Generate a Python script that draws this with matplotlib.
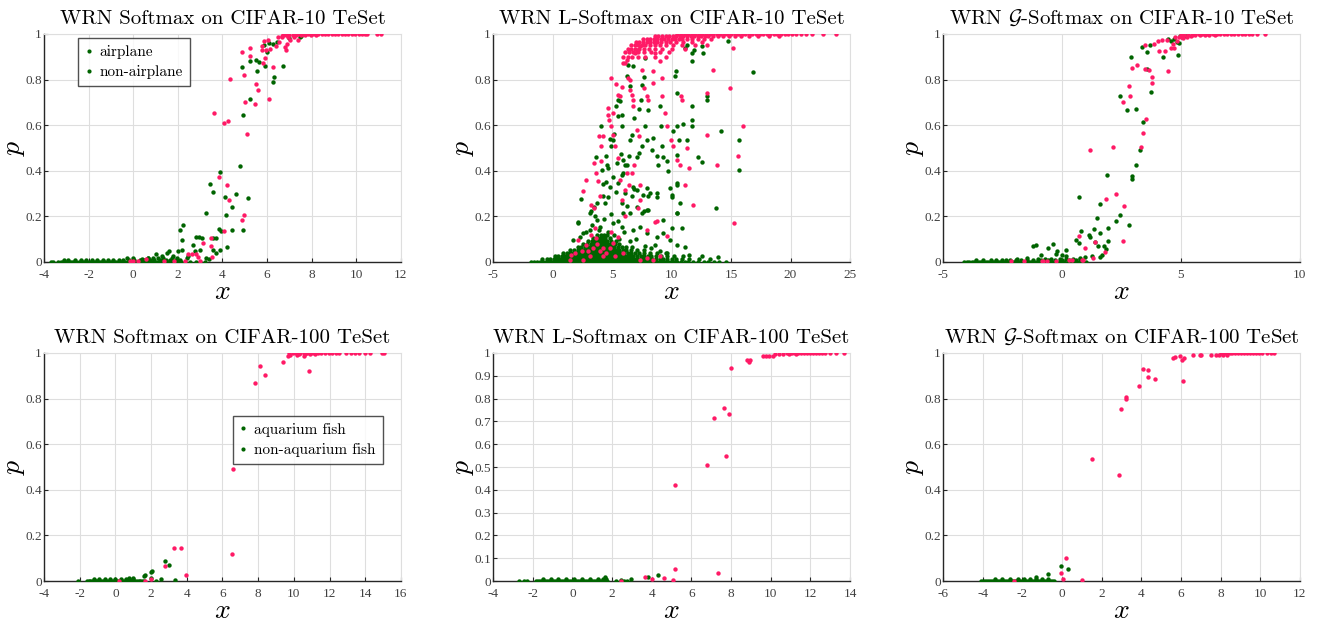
import numpy as np
import matplotlib
matplotlib.use('Agg')
import matplotlib.pyplot as plt
from matplotlib.lines import Line2D

plt.rcParams['font.family'] = ['Liberation Serif', 'DejaVu Serif']
plt.rcParams['mathtext.fontset'] = 'cm'
plt.rcParams['axes.unicode_minus'] = False

GREEN = '#006400'
PINK = '#ff1a66'

# ---------------- CIFAR-10, Softmax ----------------
c10_soft_g_rows = {
    0.002: [-3.7, -3.6, -3.35, -3.25, -3.15, -3.05, -2.95, -2.85, -2.75, -2.65, -2.55, -2.45, -2.35,
            -2.25, -2.15, -2.05, -1.95, -1.85, -1.75, -1.65, -1.55, -1.45, -1.35, -1.25, -1.15,
            -1.05, -0.95, -0.85, -0.75, -0.65, -0.55, -0.45, -0.35, -0.25, -0.15, -0.05, 0.05,
            0.15, 0.25, 0.35, 0.45, 0.55, 0.65, 0.75, 0.85, 0.95, 1.05, 1.15, 1.25, 1.35, 1.45,
            1.55, 1.65, 1.75, 1.85, 1.95, 2.05, 2.15, 2.3, 2.55, 2.8, 3.0, 3.2],
    0.008: [-3.1, -2.9, -2.6, -2.35, -2.1, -1.85, -1.6, -1.35, -1.15, -0.9, -0.65, -0.45, -0.2,
            0.05, 0.3, 0.5, 0.75, 0.95, 1.2, 1.45, 1.65, 1.9, 2.1],
    0.016: [-0.3, 0.0, 0.65, 0.9, 1.1, 1.35, 1.75, 1.95, 2.4],
}
c10_soft_g_x = [2.09, 2.22, 2.21, 2.21, 2.01, 1.61, 1.53, 2.83, 2.95, 3.1, 2.68, 2.77, 3.0, 3.28,
                3.46, 3.58, 3.88, 3.83, 3.95, 3.59, 3.73, 3.58, 3.91, 3.73, 4.12, 4.18, 4.21, 4.45,
                4.43, 4.63, 4.78, 4.9, 4.88, 4.94, 5.15, 5.25, 5.25, 5.51, 5.57, 5.66, 5.9, 5.88,
                6.02, 6.08, 6.26, 6.27, 6.32, 6.72, 6.44, 6.99, 7.54, 7.47, 0.4, 1.3, 1.03, 1.79,
                2.47, 3.4, 3.25, 0.68]
c10_soft_g_p = [0.142, 0.16, 0.095, 0.054, 0.05, 0.05, 0.04, 0.11, 0.11, 0.104, 0.073, 0.05, 0.054,
                0.215, 0.34, 0.306, 0.393, 0.145, 0.137, 0.104, 0.104, 0.054, 0.054, 0.04, 0.285,
                0.208, 0.067, 0.241, 0.142, 0.3, 0.42, 0.646, 0.855, 0.142, 0.279, 0.715, 0.88,
                0.885, 0.839, 0.877, 0.858, 0.95, 0.921, 0.959, 0.956, 0.789, 0.813, 0.858, 0.966,
                0.982, 0.99, 0.985, 0.013, 0.028, 0.034, 0.025, 0.025, 0.015, 0.016, 0.019]
c10_soft_r_rows = {
    1.0: [7.4, 7.55, 7.7, 7.85, 8.0, 8.15, 8.3, 8.45, 8.6, 8.75, 8.9, 9.05, 9.2, 9.35, 9.5, 9.65,
          9.8, 9.95, 10.1, 10.25, 10.4, 10.5, 10.95, 11.1],
    0.995: [6.7, 6.85, 7.0, 7.15, 7.3, 7.5, 7.7, 7.95, 8.2],
    0.988: [6.5, 6.65, 6.95, 7.2],
}
c10_soft_r_x = [3.62, 4.06, 4.27, 4.36, 4.88, 4.96, 5.03, 5.08, 5.45, 5.51, 5.6, 6.08, 5.24, 5.25,
                5.76, 5.76, 5.82, 5.93, 5.97, 6.12, 5.85, 6.06, 6.39, 6.54, 6.67, 6.79, 6.84, 6.9,
                7.02, 7.39, 6.26, 3.83, 4.21, 4.3, 4.88, 4.96, 4.06, 3.49, 3.48, 3.15, 2.83, 2.47,
                2.65, 2.92, 3.53, 3.0, 2.31, 1.82, 1.37, 0.59, 0.2, -0.13, 0.0]
c10_soft_r_p = [0.653, 0.611, 0.617, 0.803, 0.921, 0.82, 0.7, 0.561, 0.693, 0.782, 0.753, 0.716,
                0.905, 0.94, 0.949, 0.928, 0.873, 0.895, 0.931, 0.934, 0.969, 0.975, 0.946, 0.965,
                0.99, 0.942, 0.928, 0.955, 0.972, 0.972, 0.855, 0.371, 0.338, 0.272, 0.186, 0.208,
                0.137, 0.104, 0.069, 0.083, 0.034, 0.034, 0.034, 0.022, 0.02, 0.003, 0.006, 0.003,
                0.003, 0.012, 0.003, 0.003, 0.006]

# ---------------- CIFAR-10, L-Softmax ----------------
c10_lsoft_g_rows = {
    0.002: [-1.8, -1.55, -1.3, -1.05, -0.8, -0.55, -0.3, -0.05, 0.2, 0.45, 0.7, 0.95, 1.2, 1.45,
            1.7, 1.95, 2.2, 2.45, 2.7, 2.95, 3.2, 3.45, 3.7, 3.95, 4.2, 4.45, 4.7, 4.95, 5.2, 5.45,
            5.7, 5.95, 6.2, 6.45, 6.7, 6.95, 7.2, 7.45, 7.7, 7.95, 8.2, 8.45, 8.7, 8.95, 9.2, 9.45,
            9.7, 9.95, 10.2, 10.5, 10.8, 11.1, 11.4, 11.8, 12.2, 12.7, 13.1, 13.6, 14.0, 14.6],
    0.014: [-0.9, -0.5, -0.2, 0.1, 0.35, 0.6, 0.85, 1.1, 1.35, 1.6, 1.85, 2.1, 2.35, 2.6, 2.85,
            3.1, 3.35, 3.6, 3.85, 4.1, 4.35, 4.6, 4.85, 5.1, 5.35, 5.6, 5.85, 6.1, 6.35, 6.6, 6.85,
            7.1, 7.35, 7.6, 7.85, 8.1, 8.4, 8.7, 9.0, 9.3, 9.6, 10.0, 10.4, 10.9, 11.5, 12.3, 13.2],
    0.027: [0.2, 0.5, 0.8, 1.05, 1.3, 1.55, 1.8, 2.05, 2.3, 2.55, 2.8, 3.05, 3.3, 3.55, 3.8, 4.05,
            4.3, 4.55, 4.8, 5.05, 5.3, 5.55, 5.8, 6.05, 6.3, 6.55, 6.8, 7.1, 7.4, 7.7, 8.0, 8.3,
            8.7, 9.1, 9.6, 10.2, 11.0],
    0.040: [0.9, 1.2, 1.5, 1.75, 2.0, 2.25, 2.5, 2.75, 3.0, 3.25, 3.5, 3.75, 4.0, 4.25, 4.5, 4.75,
            5.0, 5.25, 5.5, 5.75, 6.0, 6.3, 6.6, 6.9, 7.3, 7.7, 8.2, 8.8, 9.5],
    0.053: [1.5, 1.8, 2.1, 2.35, 2.6, 2.85, 3.1, 3.35, 3.6, 3.85, 4.1, 4.35, 4.6, 4.85, 5.1, 5.35,
            5.6, 5.9, 6.2, 6.6, 7.1, 7.7],
    0.066: [2.1, 2.4, 2.7, 2.95, 3.2, 3.45, 3.7, 3.95, 4.2, 4.45, 4.7, 4.95, 5.2, 5.5, 5.8, 6.2,
            6.7],
    0.079: [2.6, 2.9, 3.2, 3.45, 3.7, 3.95, 4.2, 4.45, 4.7, 4.95, 5.25, 5.6],
    0.092: [3.0, 3.3, 3.6, 3.85, 4.1, 4.35, 4.6, 4.9, 5.3],
    0.105: [3.4, 3.7, 3.95, 4.2, 4.45, 4.8],
    0.118: [3.75, 4.05, 4.35, 4.6],
}
c10_lsoft_g_x = [4.06, 2.37, 2.12, 3.69, 4.53, 4.67, 4.48, 4.25, 4.25, 3.75, 3.47, 3.27, 4.81, 4.9,
                 5.04, 5.15, 5.37, 5.51, 5.66, 5.8, 5.8, 5.51, 5.74, 5.94, 6.08, 5.88, 6.22, 6.36,
                 6.78, 6.5, 6.86, 6.64, 6.55, 6.44, 6.83, 7.06, 6.64, 6.22, 5.88, 7.28, 7.42, 7.48,
                 7.67, 7.78, 8.04, 7.76, 7.96, 7.48, 7.28, 7.9, 8.04, 7.67, 8.04, 8.32, 8.46, 8.74,
                 8.88, 8.74, 9.02, 9.08, 9.16, 9.58, 9.72, 9.86, 10.0, 10.28, 10.37, 10.42, 10.48,
                 10.62, 10.42, 10.14, 10.42, 10.7, 10.42, 11.12, 11.26, 11.68, 11.88, 11.68, 11.74,
                 11.68, 11.0, 11.26, 12.24, 12.52, 11.68, 12.66, 12.52, 13.02, 13.02, 13.73, 14.12,
                 14.77, 15.67, 15.67, 16.87,
                 2.17, 3.15, 3.71, 4.41, 4.69, 4.83, 5.53, 5.34, 5.81, 6.09, 6.51, 7.07, 7.5, 7.92,
                 8.19, 8.75, 9.31, 10.01, 10.85, 10.43, 3.99, 3.15, 2.59, 2.31, 1.75, 5.11, 5.81,
                 6.79, 7.35, 7.92, 8.75, 9.31, 9.87, 10.43, 11.13, 8.61, 4.13, 4.55, 5.39, 5.11,
                 5.81, 6.23, 7.07, 9.31, 10.43, 10.01, 6.79, 7.63,
                 2.8, 3.3, 3.9, 4.3, 4.7, 5.2, 5.6, 6.0, 6.5, 7.0, 7.8, 8.3, 9.0, 9.6, 11.5, 12.6,
                 13.9, 3.6, 4.9, 5.5]
c10_lsoft_g_p = [0.598, 0.278, 0.174, 0.46, 0.466, 0.412, 0.349, 0.344, 0.288, 0.259, 0.241, 0.222,
                 0.539, 0.507, 0.537, 0.561, 0.683, 0.712, 0.705, 0.646, 0.598, 0.639, 0.475, 0.449,
                 0.427, 0.39, 0.817, 0.865, 0.858, 0.773, 0.632, 0.558, 0.537, 0.463, 0.32, 0.317,
                 0.288, 0.244, 0.215, 0.67, 0.712, 0.775, 0.811, 0.895, 0.668, 0.595, 0.537, 0.507,
                 0.478, 0.325, 0.288, 0.222, 0.227, 0.493, 0.544, 0.463, 0.427, 0.303, 0.683, 0.595,
                 0.507, 0.442, 0.398, 0.325, 0.295, 0.815, 0.836, 0.741, 0.595, 0.537, 0.471, 0.573,
                 0.338, 0.259, 0.215, 0.939, 0.953, 0.917, 0.931, 0.88, 0.624, 0.595, 0.607, 0.537,
                 0.461, 0.437, 0.683, 0.917, 0.946, 0.709, 0.727, 0.237, 0.573, 0.968, 0.534, 0.405,
                 0.832,
                 0.172, 0.213, 0.184, 0.257, 0.286, 0.33, 0.345, 0.309, 0.257, 0.301, 0.213, 0.243,
                 0.213, 0.228, 0.301, 0.286, 0.184, 0.148, 0.148, 0.213, 0.155, 0.14, 0.126, 0.111,
                 0.096, 0.17, 0.155, 0.14, 0.155, 0.126, 0.111, 0.126, 0.096, 0.075, 0.067, 0.075,
                 0.404, 0.425, 0.433, 0.374, 0.382, 0.425, 0.462, 0.462, 0.345, 0.286, 0.33, 0.294,
                 0.13, 0.16, 0.14, 0.19, 0.13, 0.12, 0.1, 0.13, 0.09, 0.1, 0.07, 0.06, 0.05, 0.04,
                 0.03, 0.025, 0.02, 0.2, 0.21, 0.18]
c10_lsoft_r_rows = {
    1.0: [10.5, 10.8, 11.1, 11.4, 11.7, 12.0, 12.3, 12.6, 12.9, 13.2, 13.5, 13.8, 14.1, 14.4, 14.7,
          15.0, 15.3, 15.6, 15.9, 16.2, 16.5, 16.8, 17.1, 17.4, 17.7, 18.0, 18.3, 18.6, 18.9, 19.2,
          19.5, 19.8, 20.1, 20.5, 20.9, 21.3, 21.8, 22.7, 23.8],
    0.99: [8.6, 8.9, 9.2, 9.5, 9.8, 10.1, 10.4, 10.7, 11.0, 11.3, 11.6, 11.9, 12.2, 12.5, 12.8, 13.1,
           13.5, 13.9, 14.3, 14.8, 15.3, 15.8, 16.5, 17.3, 18.2, 19.0],
    0.978: [7.6, 7.9, 8.2, 8.5, 8.8, 9.1, 9.4, 9.7, 10.0, 10.3, 10.6, 10.9, 11.3, 11.7, 12.2, 12.7,
            13.3],
    0.965: [7.0, 7.3, 7.6, 7.9, 8.2, 8.5, 8.8, 9.1, 9.5, 9.9, 10.4, 11.0, 11.7, 12.6],
    0.95: [6.6, 6.9, 7.2, 7.5, 7.8, 8.2, 8.6, 9.0, 9.5, 10.1, 10.9, 12.0, 13.0],
    0.935: [6.3, 6.6, 6.95, 7.3, 7.7, 8.1, 8.6, 9.2, 10.0, 11.1],
    0.92: [6.1, 6.4, 6.8, 7.2, 7.7, 8.3, 9.0, 9.8],
    0.9: [5.9, 6.3, 6.7, 7.2, 7.8, 8.6, 9.5],
}
c10_lsoft_r_x = [4.9, 4.67, 4.62, 4.73, 3.91, 4.25, 4.08, 3.49, 4.06, 2.85, 2.52, 3.69, 3.86, 3.97,
                 3.27, 3.47, 5.37, 5.51, 5.66, 5.91, 6.08, 6.22, 6.3, 6.5, 6.55, 6.64, 6.72, 6.78,
                 5.8, 5.09, 4.95, 5.09, 5.23, 5.51, 5.66, 5.8, 6.08, 6.22, 6.44, 6.64, 6.83, 7.06,
                 7.25, 6.92, 7.06, 7.34, 7.48, 7.67, 7.9, 8.04, 8.46, 8.46, 8.6, 9.02, 9.16, 9.24,
                 9.44, 9.58, 9.92, 10.14, 10.42, 10.7, 10.79, 10.87, 11.32, 11.49, 11.12, 11.82,
                 12.94, 13.0, 13.78, 13.5, 14.9, 15.18, 15.97, 15.55, 15.27, 8.82, 8.6, 7.34, 7.34,
                 7.22, 7.9, 9.58, 6.08,
                 2.15, 2.85, 3.27, 3.69, 3.41, 3.97, 4.25, 4.53, 3.13, 2.57, 1.45, 1.59, 5.09, 5.23,
                 5.94, 7.34, 7.9, 8.46, 9.02, 1.87, 2.99, 4.81, 4.25, 3.55, 4.95, 2.45, 3.75, 5.5]
c10_lsoft_r_p = [0.807, 0.675, 0.643, 0.624, 0.554, 0.554, 0.507, 0.434, 0.442, 0.361, 0.31, 0.39,
                 0.354, 0.288, 0.251, 0.237, 0.781, 0.734, 0.727, 0.873, 0.873, 0.887, 0.807, 0.8,
                 0.756, 0.734, 0.712, 0.683, 0.768, 0.654, 0.595, 0.558, 0.507, 0.456, 0.361, 0.273,
                 0.317, 0.39, 0.339, 0.39, 0.427, 0.58, 0.551, 0.917, 0.931, 0.946, 0.844, 0.763,
                 0.727, 0.712, 0.836, 0.785, 0.917, 0.88, 0.807, 0.727, 0.654, 0.595, 0.537, 0.507,
                 0.449, 0.427, 0.727, 0.712, 0.5, 0.412, 0.339, 0.251, 0.741, 0.558, 0.427, 0.841,
                 0.763, 0.939, 0.595, 0.466, 0.171, 0.178, 0.174, 0.339, 0.273, 0.237, 0.142,
                 0.113, 0.2,
                 0.098, 0.076, 0.12, 0.105, 0.061, 0.047, 0.025, 0.04, 0.025, 0.01, 0.01, 0.032,
                 0.083, 0.025, 0.04, 0.01, 0.018, 0.01, 0.025, 0.04, 0.047, 0.061, 0.061, 0.15,
                 0.13, 0.05, 0.08, 0.11]

# ---------------- CIFAR-10, G-Softmax ----------------
c10_gsoft_g_rows = {
    0.002: [-4.1, -4.0, -3.9, -3.8, -3.7, -3.6, -3.5, -3.4, -3.3, -3.2, -3.1, -3.0, -2.9, -2.8,
            -2.7, -2.6, -2.5, -2.4, -2.3, -2.2, -2.1, -2.0, -1.9, -1.8, -1.7, -1.6, -1.5, -1.4,
            -1.3, -1.2, -1.1, -1.0, -0.9, -0.8, -0.7, -0.6, -0.5, -0.4, -0.3, -0.2, -0.1, 0.0,
            0.1, 0.25, 0.4, 0.55, 0.7, 0.85, 1.0],
    0.008: [-3.6, -3.3, -3.0, -2.75, -2.5, -2.2, -1.95, -1.7, -1.45, -1.2, -0.9, -0.6, -0.3, 0.0,
            0.3, 0.6],
    0.015: [-1.0, -0.7, -0.45, -0.1, 0.15, 0.45, 0.75],
}
c10_gsoft_g_x = [0.71, 0.82, 0.61, 0.71, 1.13, 1.17, 1.34, 1.48, 1.59, 1.59, 1.41, 1.51, 1.76, 1.87,
                 1.94, 1.92, 1.9, 2.28, 2.46, 2.83, 2.42, 2.72, 2.91, 3.1, 3.1, 2.93, 2.93, 3.28,
                 3.42, 3.36, 3.59, 3.59, 3.71, 3.73, 4.26, 4.46, 4.57, 4.71, 4.82, 4.89, 4.92, 4.96,
                 5.2, 5.06, -0.58, -0.38, -1.09, -1.21, -0.19, -0.24, 0.01, 0.18, 0.17, -0.9, 0.78,
                 0.95, 1.27, 1.58, 1.69, -1.46, -1.89, -2.36]
c10_gsoft_g_p = [0.285, 0.135, 0.098, 0.083, 0.12, 0.11, 0.145, 0.192, 0.256, 0.127, 0.089, 0.069,
                 0.069, 0.057, 0.091, 0.148, 0.382, 0.181, 0.206, 0.161, 0.728, 0.668, 0.899,
                 0.673, 0.427, 0.376, 0.365, 0.49, 0.613, 0.943, 0.92, 0.846, 0.95, 0.747, 0.899,
                 0.98, 0.968, 0.978, 0.963, 0.908, 0.96, 0.99, 0.993, 0.987, 0.061, 0.079, 0.076,
                 0.072, 0.047, 0.037, 0.029, 0.051, 0.028, 0.032, 0.018, 0.02, 0.025, 0.022, 0.032,
                 0.018, 0.013, 0.01]
c10_gsoft_r_rows = {
    1.0: [5.6, 5.75, 5.9, 6.05, 6.2, 6.35, 6.5, 6.65, 6.8, 6.95, 7.1, 7.25, 7.4, 7.55, 7.7, 7.85,
          8.0, 8.2, 8.55],
    0.995: [5.0, 5.15, 5.3, 5.45, 5.6, 5.8, 6.0, 6.2, 6.45],
    0.985: [4.75, 4.9, 5.05, 5.25],
}
c10_gsoft_r_x = [1.17, 2.16, 2.28, 1.86, 2.6, 2.56, 0.71, 0.98, 1.79, 1.3, 0.85, 1.41, 2.81, 2.88,
                 2.95, 2.56, 3.17, 3.49, 3.49, 3.52, 3.39, 3.32, 3.64, 3.77, 3.78, 3.87, 4.02, 4.09,
                 4.33, 4.47, 4.57, 4.69, 4.22, 4.4, 4.68, 4.85, 5.1, 5.41, -2.15, -1.6, -0.85, -0.62,
                 -0.27, 0.29, 0.42, 0.9, -0.79]
c10_gsoft_r_p = [0.49, 0.504, 0.3, 0.278, 0.246, 0.091, 0.115, 0.063, 0.042, 0.016, 0.01, 0.088,
                 0.77, 0.728, 0.852, 0.702, 0.864, 0.846, 0.95, 0.629, 0.567, 0.504, 0.844, 0.811,
                 0.785, 0.956, 0.968, 0.924, 0.924, 0.836, 0.939, 0.939, 0.972, 0.975, 0.956, 0.968,
                 0.982, 0.99, 0.003, 0.003, 0.003, 0.004, 0.006, 0.007, 0.01, 0.009, 0.006]

# ---------------- CIFAR-100, Softmax ----------------
c100_soft_g_rows = {
    0.002: [-1.6, -1.5, -1.4, -1.3, -1.2, -1.1, -1.0, -0.9, -0.8, -0.7, -0.6, -0.5, -0.4, -0.3,
            -0.2, -0.1, 0.0, 0.1, 0.2, 0.3, 0.4, 0.5, 0.6, 0.7, 0.8, 0.9, 1.0, 1.1, 1.2, 1.3,
            1.4, 1.5, 1.6],
    0.008: [-1.2, -0.9, -0.6, -0.3, 0.0, 0.3, 0.6, 0.75, 1.0],
}
c100_soft_g_x = [2.8, 3.01, 2.02, 2.07, 1.61, 1.68, 3.36, 2.54, 2.26, 1.98, -2.09, 0.77, 0.99]
c100_soft_g_p = [0.088, 0.07, 0.041, 0.044, 0.022, 0.026, 0.004, 0.009, 0.001, 0.012, 0.001, 0.015,
                 0.012]
c100_soft_r_rows = {
    1.0: [9.75, 9.95, 10.15, 10.35, 10.55, 10.75, 10.95, 11.15, 11.35, 11.55, 11.75, 11.95, 12.15,
          12.35, 12.55, 12.9, 13.2, 13.45, 13.65, 14.0, 14.25, 14.95, 15.05],
    0.995: [10.3, 10.6, 10.9, 11.2],
}
c100_soft_r_x = [7.85, 8.13, 8.41, 9.4, 9.68, 9.77, 10.86, 10.56, 10.2, 6.6, 6.54, 3.29, 3.7, 3.98,
                 2.77, 1.98, 1.68, 0.2]
c100_soft_r_p = [0.868, 0.941, 0.905, 0.962, 0.985, 0.993, 0.922, 0.988, 0.993, 0.492, 0.117, 0.143,
                 0.143, 0.026, 0.066, 0.007, 0.001, 0.001]

# ---------------- CIFAR-100, L-Softmax ----------------
c100_lsoft_g_rows = {
    0.002: [-2.7, -2.45, -2.27, -1.85, -1.75, -1.65, -1.55, -1.45, -1.35, -1.25, -1.15, -1.05,
            -0.95, -0.85, -0.75, -0.65, -0.55, -0.45, -0.35, -0.25, -0.15, -0.05, 0.05, 0.15,
            0.25, 0.35, 0.45, 0.55, 0.65, 0.75, 0.85, 0.95, 1.05, 1.15, 1.25, 1.35, 1.45, 1.55,
            1.65, 1.75, 2.2, 2.6, 2.75],
    0.007: [-1.5, -1.1, -0.7, -0.3, 0.1, 0.5, 0.9, 1.3, 1.55, 1.7],
}
c100_lsoft_g_x = [1.67, 1.63, 2.98, 3.79, 4.33, 2.45]
c100_lsoft_g_p = [0.01, 0.017, 0.009, 0.017, 0.025, 0.004]
c100_lsoft_r_rows = {
    1.0: [10.8, 10.95, 11.1, 11.25, 11.4, 11.55, 11.7, 11.85, 12.0, 12.15, 12.3, 12.45, 12.6, 12.75,
          13.0, 13.3, 13.7],
    0.995: [10.2, 10.4, 10.6, 10.9, 11.3],
    0.988: [9.6, 9.75, 9.9, 10.1],
}
c100_lsoft_r_x = [6.77, 7.13, 7.66, 7.88, 7.74, 7.99, 8.82, 8.92, 8.95, 5.18, 5.18, 7.32, 5.08, 4.63,
                  4.01, 3.65, 2.43]
c100_lsoft_r_p = [0.507, 0.714, 0.758, 0.731, 0.547, 0.932, 0.971, 0.961, 0.968, 0.419, 0.051,
                  0.035, 0.003, 0.013, 0.01, 0.016, 0.001]

# ---------------- CIFAR-100, G-Softmax ----------------
c100_gsoft_g_rows = {
    0.002: [-4.1, -4.0, -3.9, -3.8, -3.7, -3.6, -3.5, -3.4, -3.3, -3.2, -3.1, -3.0, -2.9, -2.8,
            -2.7, -2.6, -2.5, -2.4, -2.3, -2.2, -2.1, -2.0, -1.9, -1.8, -1.7, -1.6, -1.5, -1.4,
            -1.3, -1.2, -1.1, -1.0, -0.9, -0.8, -0.7, -0.6, -0.5, -0.4],
    0.008: [-3.4, -3.0, -2.6, -2.2, -1.9, -1.6, -1.3, -1.0, -0.7],
}
c100_gsoft_g_x = [-1.32, -0.71, -0.07, 0.31]
c100_gsoft_g_p = [0.016, 0.029, 0.067, 0.051]
c100_gsoft_r_rows = {
    1.0: [8.0, 8.15, 8.3, 8.45, 8.6, 8.75, 8.9, 9.05, 9.2, 9.35, 9.5, 9.65, 9.8, 9.95, 10.1, 10.35,
          10.55, 10.7],
    0.993: [7.5, 7.76, 7.93, 8.1, 8.3],
}
c100_gsoft_r_x = [1.53, 2.87, 2.96, 3.23, 3.25, 3.9, 4.09, 4.34, 4.36, 4.69, 6.11, 5.6, 5.69, 5.96,
                  6.07, 6.14, 6.63, 6.95, 7.03, 0.23, -0.04, 0.03, 1.02, -2.4]
c100_gsoft_r_p = [0.536, 0.466, 0.755, 0.799, 0.807, 0.855, 0.928, 0.927, 0.893, 0.886, 0.878,
                  0.978, 0.981, 0.985, 0.971, 0.978, 0.99, 0.99, 0.993, 0.102, 0.034, 0.007, 0.006,
                  0.001]


def collect(rows, xs, ps):
    # rows: level -> x values lying on that level
    x_all = list(xs)
    p_all = list(ps)
    for level, row in rows.items():
        x_all += row
        p_all += [level] * len(row)
    return x_all, p_all


panels = [
    dict(title='WRN Softmax on CIFAR-10 TeSet', xlim=(-4, 12), xticks=range(-4, 13, 2),
         yticks=[0, 0.2, 0.4, 0.6, 0.8, 1],
         green=collect(c10_soft_g_rows, c10_soft_g_x, c10_soft_g_p),
         pink=collect(c10_soft_r_rows, c10_soft_r_x, c10_soft_r_p),
         legend=['airplane', 'non-airplane'], leg_pos=(0.095, 0.982)),
    dict(title='WRN L-Softmax on CIFAR-10 TeSet', xlim=(-5, 25), xticks=range(-5, 26, 5),
         yticks=[0, 0.2, 0.4, 0.6, 0.8, 1],
         green=collect(c10_lsoft_g_rows, c10_lsoft_g_x, c10_lsoft_g_p),
         pink=collect(c10_lsoft_r_rows, c10_lsoft_r_x, c10_lsoft_r_p)),
    dict(title=r'WRN $\mathcal{G}$-Softmax on CIFAR-10 TeSet', xlim=(-5, 10),
         xticks=range(-5, 11, 5), yticks=[0, 0.2, 0.4, 0.6, 0.8, 1],
         green=collect(c10_gsoft_g_rows, c10_gsoft_g_x, c10_gsoft_g_p),
         pink=collect(c10_gsoft_r_rows, c10_gsoft_r_x, c10_gsoft_r_p)),
    dict(title='WRN Softmax on CIFAR-100 TeSet', xlim=(-4, 16), xticks=range(-4, 17, 2),
         yticks=[0, 0.2, 0.4, 0.6, 0.8, 1],
         green=collect(c100_soft_g_rows, c100_soft_g_x, c100_soft_g_p),
         pink=collect(c100_soft_r_rows, c100_soft_r_x, c100_soft_r_p),
         legend=['aquarium fish', 'non-aquarium fish'], leg_pos=(0.529, 0.724)),
    dict(title='WRN L-Softmax on CIFAR-100 TeSet', xlim=(-4, 14), xticks=range(-4, 15, 2),
         yticks=[0, 0.1, 0.2, 0.3, 0.4, 0.5, 0.6, 0.7, 0.8, 0.9, 1],
         green=collect(c100_lsoft_g_rows, c100_lsoft_g_x, c100_lsoft_g_p),
         pink=collect(c100_lsoft_r_rows, c100_lsoft_r_x, c100_lsoft_r_p)),
    dict(title=r'WRN $\mathcal{G}$-Softmax on CIFAR-100 TeSet', xlim=(-6, 12),
         xticks=range(-6, 13, 2), yticks=[0, 0.2, 0.4, 0.6, 0.8, 1],
         green=collect(c100_gsoft_g_rows, c100_gsoft_g_x, c100_gsoft_g_p),
         pink=collect(c100_gsoft_r_rows, c100_gsoft_r_x, c100_gsoft_r_p)),
]

fig = plt.figure(figsize=(13.24, 6.23), dpi=100)
lefts = [0.0332, 0.3724, 0.7122]
bottoms = [0.5795, 0.0674]

for i, pan in enumerate(panels):
    ax = fig.add_axes([lefts[i % 3], bottoms[i // 3], 0.2696, 0.366])
    gx, gp = pan['green']
    rx, rp = pan['pink']
    ax.scatter(gx, gp, s=10, color=GREEN, linewidths=0, zorder=3)
    ax.scatter(rx, rp, s=10, color=PINK, linewidths=0, zorder=4)

    ax.set_xlim(*pan['xlim'])
    ax.set_ylim(0, 1)
    ax.set_xticks(list(pan['xticks']))
    ax.set_yticks(pan['yticks'])
    ax.set_xticklabels(['%g' % t for t in pan['xticks']])
    ax.set_yticklabels(['%g' % t for t in pan['yticks']])
    ax.tick_params(direction='in', length=3, width=0.8, labelsize=9.5, colors='#262626',
                   labelcolor='#404040', top=False, right=False)
    ax.tick_params(axis='x', pad=5)
    ax.tick_params(axis='y', pad=1.5)
    ax.grid(True, color='#dedede', linewidth=0.8)
    ax.set_axisbelow(True)
    for side in ['top', 'right']:
        ax.spines[side].set_color('#dedede')
        ax.spines[side].set_linewidth(0.8)
    for side in ['left', 'bottom']:
        ax.spines[side].set_color('#262626')
        ax.spines[side].set_linewidth(1.0)

    ax.set_title(pan['title'], fontsize=15, pad=7, family='cmr10')
    ax.set_xlabel('$x$', fontsize=20, labelpad=-1)
    ax.set_ylabel('$p$', fontsize=20, labelpad=-1)

    if 'legend' in pan:
        handles = [Line2D([], [], linestyle='none', marker='o', markersize=3,
                          color=GREEN, markeredgewidth=0) for _ in pan['legend']]
        leg = ax.legend(handles, pan['legend'], loc='upper left',
                        bbox_to_anchor=pan['leg_pos'], borderaxespad=0,
                        prop=dict(family='cmr10', size=11),
                        frameon=True, fancybox=False, edgecolor='#262626',
                        handlelength=0.5, handletextpad=0.45, borderpad=0.45,
                        labelspacing=0.4)
        leg.get_frame().set_linewidth(1.0)

fig.savefig('out.png', dpi=100)
